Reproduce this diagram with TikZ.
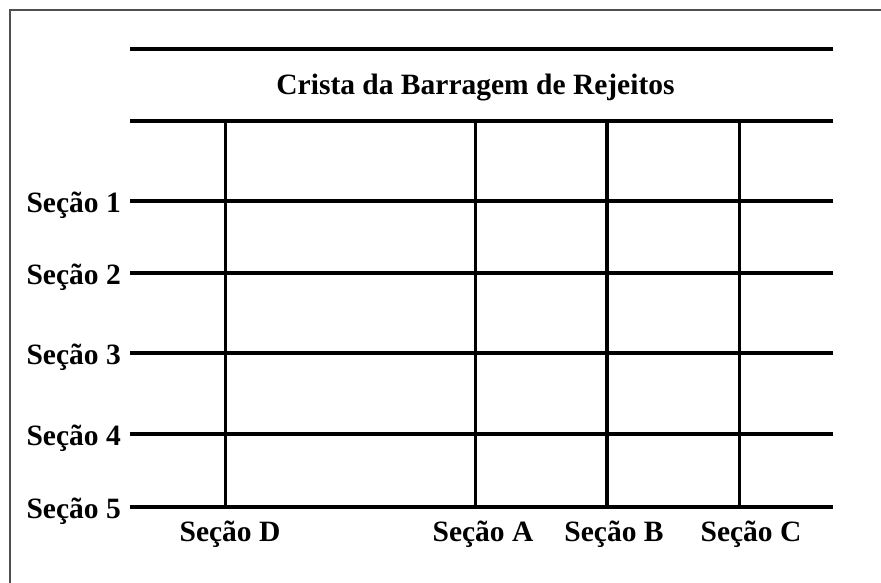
\documentclass[tikz,border=0pt]{standalone}
\usepackage{fontspec}
\setmainfont{Liberation Serif}
\usetikzlibrary{positioning}
\tikzset{
  secnode/.style = {font=\bfseries\fontsize{29.5}{31}\selectfont, inner sep=0pt, black},
  sec_l/.style = {secnode, anchor=base east},
  sec_b/.style = {secnode, anchor=base},
  gridline/.style = {line width=3.2pt, black}
}
\definecolor{my_frame}{RGB}{80, 80, 80}

\begin{document}
\begin{tikzpicture}[x=1pt,y=-1pt,
        	framed/.style={draw=my_frame, line width=1.6pt}]
            \useasboundingbox (0,0) rectangle (881,583);
            \coordinate (fb) at (10,583);
            \coordinate (fc) at (10,10);
            \coordinate (fr) at (881,10);
            \draw[framed] (fb) -- (fc) -- (fr);
            % crista
            \coordinate (topl) at (130,49);
            \coordinate (topr) at (833,49);
            \coordinate (crl) at (130,121);
            \coordinate (crr) at (833,121);
            \draw[gridline] (topl) -- (topr);
            \draw[gridline] (crl) -- (crr);
            \node[sec_b] (crista) at (475.5,95) {Crista da Barragem de Rejeitos};
            % secoes horizontais
            \foreach \n/\yy in {1/201,2/273,3/353,4/434,5/507} {
              \node[sec_l] (s\n) at (121,\yy+11) {Seção \n};
              \coordinate (h\n l) at (130,\yy);
              \coordinate (h\n r) at (833,\yy);
              \draw[gridline] (h\n l) -- (h\n r);
            }
            % secoes verticais
            \foreach \n/\xx/\lx in {D/225.5/230,A/475.5/483,B/607/614,C/739.5/751} {
              \coordinate (v\n t) at (\xx,121);
              \coordinate (v\n b) at (\xx,507);
              \draw[gridline] (v\n t) -- (v\n b);
              \node[sec_b] (s\n) at (\lx,541) {Seção \n};
            }
        \end{tikzpicture}
\end{document}
